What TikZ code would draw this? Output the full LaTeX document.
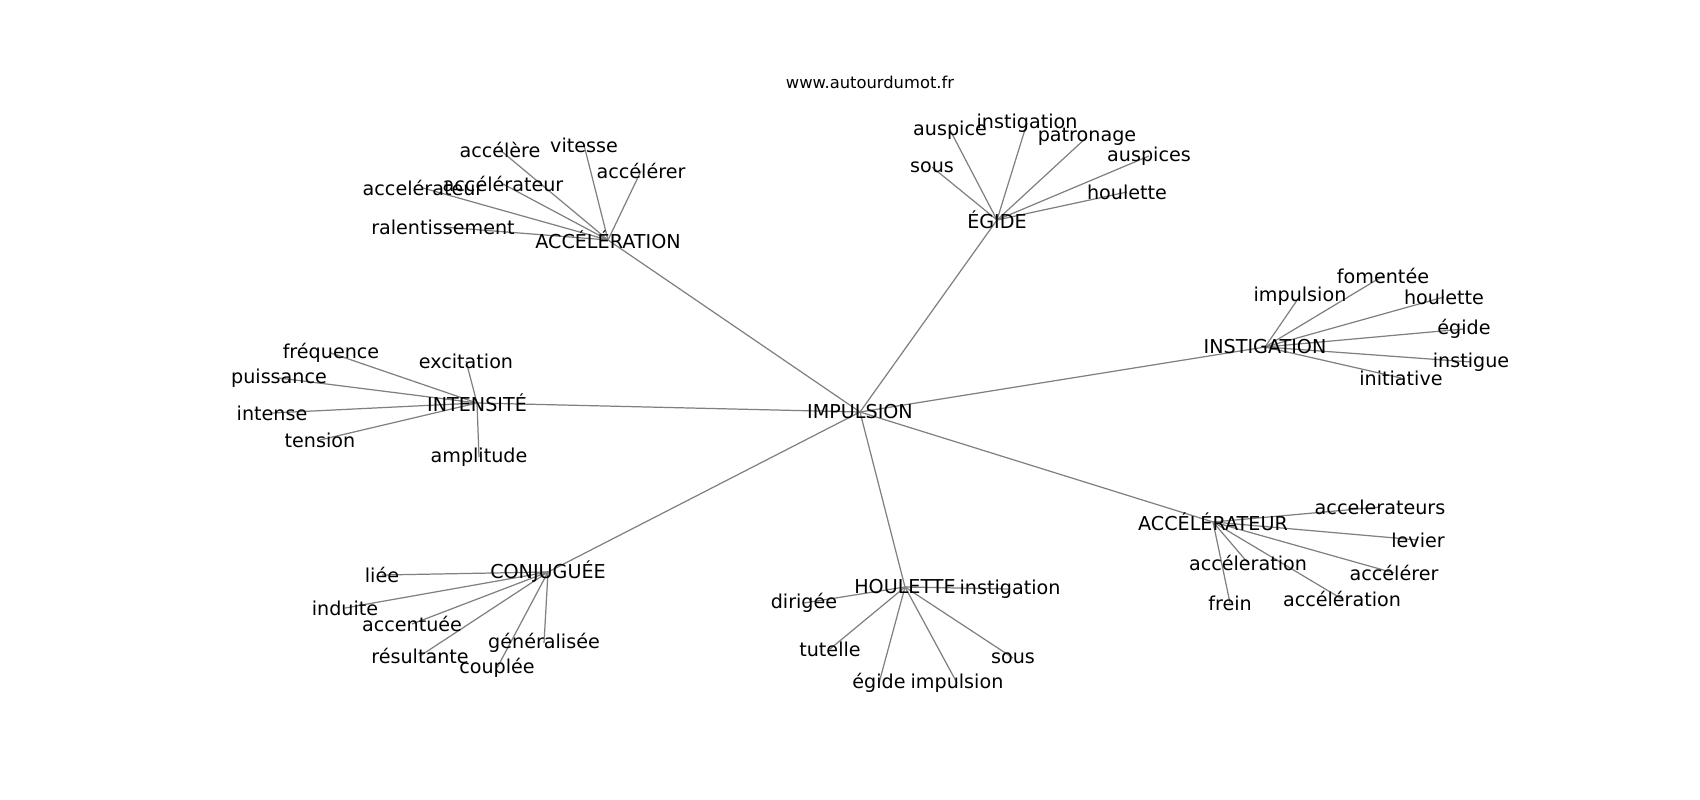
\documentclass[tikz,border=0pt]{standalone}
\usepackage{fontspec}
\setmainfont{DejaVu Sans}
\usetikzlibrary{backgrounds}

\tikzset{
	mot/.style={inner sep=0pt, font=\fontsize{10.9}{13}\selectfont},
	lien/.style={draw=gray, line width=0.7pt}
}

\begin{document}
\begin{tikzpicture}[x=0.02cm, y=-0.02cm]
	
	\useasboundingbox (0,0) rectangle (1700,800);
	
	\node[inner sep=0pt, font=\fontsize{9.3}{11}\selectfont] (site) at (870,82) {www.autourdumot.fr};
	
	\node[mot] (impulsion) at (860,412) {IMPULSION};
	
	\node[mot] (acceleration) at (608,240) {ACCÉLÉRATION};
	\node[mot] (a1) at (500,150) {accélère};
	\node[mot] (a2) at (584,145) {vitesse};
	\node[mot] (a3) at (641,171) {accélérer};
	\node[mot] (a4) at (423,188) {accelérateur};
	\node[mot] (a5) at (503,184) {accélérateur};
	\node[mot] (a6) at (443,227) {ralentissement};
	
	\node[mot] (egide) at (997,220) {ÉGIDE};
	\node[mot] (e1) at (950,130) {auspice};
	\node[mot] (e2) at (1027,123) {instigation};
	\node[mot] (e3) at (1087,137) {patronage};
	\node[mot] (e4) at (1149,156) {auspices};
	\node[mot] (e5) at (932,167) {sous};
	\node[mot] (e6) at (1127,192) {houlette};
	
	\node[mot] (instigation) at (1265,347) {INSTIGATION};
	\node[mot] (i1) at (1383,276) {fomentée};
	\node[mot] (i2) at (1300,296) {impulsion};
	\node[mot] (i3) at (1444,297) {houlette};
	\node[mot] (i4) at (1464,329) {égide};
	\node[mot] (i5) at (1471,362) {instigue};
	\node[mot] (i6) at (1401,378) {initiative};
	
	\node[mot] (intensite) at (477,403) {INTENSITÉ};
	\node[mot] (t1) at (331,353) {fréquence};
	\node[mot] (t2) at (466,361) {excitation};
	\node[mot] (t3) at (279,378) {puissance};
	\node[mot] (t4) at (272,413) {intense};
	\node[mot] (t5) at (320,440) {tension};
	\node[mot] (t6) at (479,457) {amplitude};
	
	\node[mot] (conjuguee) at (548,572) {CONJUGUÉE};
	\node[mot] (c1) at (382,575) {liée};
	\node[mot] (c2) at (345,608) {induite};
	\node[mot] (c3) at (412,624) {accentuée};
	\node[mot] (c4) at (420,656) {résultante};
	\node[mot] (c5) at (544,643) {généralisée};
	\node[mot] (c6) at (497,668) {couplée};
	
	\node[mot] (houlette) at (905,587) {HOULETTE};
	\node[mot] (h1) at (1010,589) {instigation};
	\node[mot] (h2) at (804,603) {dirigée};
	\node[mot] (h3) at (830,649) {tutelle};
	\node[mot] (h4) at (879,683) {égide};
	\node[mot] (h5) at (957,683) {impulsion};
	\node[mot] (h6) at (1013,658) {sous};
	
	\node[mot] (accelerateur) at (1213,522) {ACCÉLÉRATEUR};
	\node[mot] (r1) at (1380,507) {accelerateurs};
	\node[mot] (r2) at (1418,540) {levier};
	\node[mot] (r3) at (1248,563) {accéleration};
	\node[mot] (r4) at (1394,573) {accélérer};
	\node[mot] (r5) at (1230,603) {frein};
	\node[mot] (r6) at (1342,599) {accélération};
	
	\begin{scope}[on background layer]
		\foreach \h in {acceleration, egide, instigation, intensite, conjuguee, houlette, accelerateur}
			\draw[lien] (impulsion.center) -- (\h.center);
		\foreach \n in {1,...,6} {
			\draw[lien] (acceleration.center) -- (a\n.center);
			\draw[lien] (egide.center) -- (e\n.center);
			\draw[lien] (instigation.center) -- (i\n.center);
			\draw[lien] (intensite.center) -- (t\n.center);
			\draw[lien] (conjuguee.center) -- (c\n.center);
			\draw[lien] (houlette.center) -- (h\n.center);
			\draw[lien] (accelerateur.center) -- (r\n.center);
		}
	\end{scope}
	
\end{tikzpicture}
\end{document}
